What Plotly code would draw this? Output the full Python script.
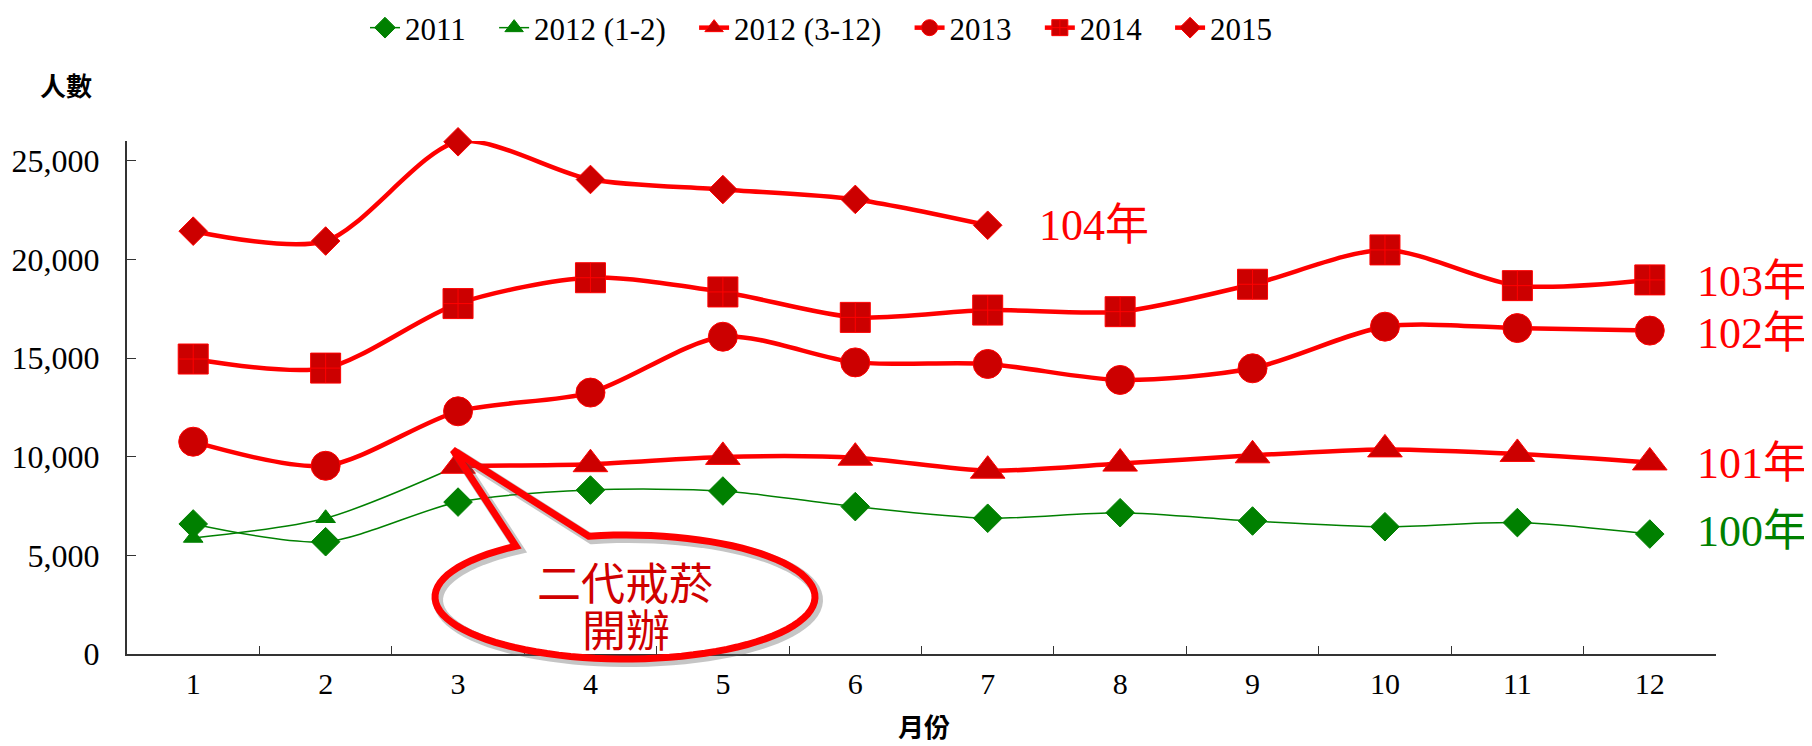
import numpy as np
import plotly.graph_objects as go

# datos (personas por mes)
meses = [str(m) for m in range(1, 13)]
v2011 = [6590, 5690, 7700, 8310, 8260, 7470, 6880, 7160, 6740, 6450, 6660, 6080]
v2012_a = [5880, 6880, 9540]            # 2012 (1-2), la linea llega hasta marzo
v2012_b = [9540, 9620, 9990, 9950, 9290, 9650, 10070, 10370, 10140, 9710]  # 2012 (3-12)
v2013 = [10760, 9540, 12300, 13250, 16080, 14780, 14700, 13890, 14480, 16590, 16520, 16390]
v2014 = [14950, 14490, 17760, 19070, 18350, 17060, 17430, 17350, 18740, 20480, 18670, 18960]
v2015 = [21430, 20930, 25960, 24050, 23540, 23040, 21730]

etiquetas_anio = ["104年", "103年", "102年", "101年", "100年"]
y_etiquetas = [21740, 18870, 16250, 9660, 6200]

fuente = "Liberation Serif, Noto Sans CJK TC, serif"
rojo = "#FF0000"
rojo_osc = "#CC0000"
verde = "#008000"
esp = "\u00a0" * 3  # separacion extra en la leyenda

fig = go.Figure()

def serie(x, y, nombre, simbolo, color_linea, color_marca, ancho, tam):
    fig.add_trace(go.Scatter(
        x=x, y=y, name=nombre + esp, mode="lines+markers", cliponaxis=False,
        line=dict(color=color_linea, width=ancho, shape="spline", smoothing=0.8),
        marker=dict(symbol=simbolo, size=tam, color=color_marca,
                    line=dict(color=color_linea, width=1)),
    ))

serie(meses, v2011, "2011", "diamond", verde, verde, 1.5, 22)
serie(meses[:3], v2012_a, "2012 (1-2)", "triangle-up", verde, verde, 1.5, 17)
serie(meses[2:], v2012_b, "2012 (3-12)", "triangle-up", rojo, rojo_osc, 4.5, 30)
serie(meses, v2013, "2013", "circle", rojo, rojo_osc, 4.5, 29)
serie(meses, v2014, "2014", "square-cross", rojo, rojo_osc, 4.5, 30)
serie(meses[:7], v2015, "2015", "diamond", rojo, rojo_osc, 4.5, 22)

# area del grafico en pixeles de pantalla (la pagina tiene 8 px de margen)
OFS = 8
L, R, T, B = 127, 1716, 141, 654
W, H = R - L, B - T
ANCHO, ALTO = 1812 - OFS, 746 - OFS

def a_papel(x, y):
    return (x - L) / W, (B - y) / H

# globo del texto "二代戒菸開辦"
cx, cy, rx, ry = 625, 597, 190, 62
ts = np.radians(np.linspace(101, -235, 90))
puntos = [(cx + rx * np.cos(t), cy - ry * np.sin(t)) for t in ts]
puntos += [(453, 450)]
def camino(pts, dx=0, dy=0):
    p = [a_papel(x + dx, y + dy) for x, y in pts]
    return "M " + " L ".join(f"{a:.5f},{b:.5f}" for a, b in p) + " Z"

fig.add_shape(type="path", xref="paper", yref="paper", path=camino(puntos, 3, 3),
              line=dict(color="rgba(90,90,90,0.35)", width=10), layer="above")
fig.add_shape(type="path", xref="paper", yref="paper", path=camino(puntos),
              line=dict(color=rojo, width=7), layer="above")

anot = []
for txt, (x, y) in [("二代戒菸", (625, 585)), ("開辦", (626, 632))]:
    px, py = a_papel(x, y)
    anot.append(dict(text=txt, x=px, y=py, xref="paper", yref="paper", showarrow=False,
                     xanchor="center", yanchor="middle",
                     font=dict(size=44, color="#D00000", family=fuente)))

x_etq = [1037, 1695, 1695, 1695, 1695]
colores_etq = [rojo, rojo, rojo, rojo, verde]
for txt, xe, ye, c in zip(etiquetas_anio, x_etq, y_etiquetas, colores_etq):
    anot.append(dict(text=txt, x=(xe - L) / W, y=ye, xref="paper", yref="y",
                     xanchor="left", yanchor="middle", showarrow=False,
                     font=dict(size=44, color=c, family=fuente)))

for txt, (x, y) in [("<b>人數</b>", (66, 88)), ("<b>月份</b>", (924, 728))]:
    px, py = a_papel(x, y)
    anot.append(dict(text=txt, x=px, y=py, xref="paper", yref="paper",
                     xanchor="center", yanchor="middle", showarrow=False, borderpad=0,
                     font=dict(size=26, color="black", family=fuente)))

fig.update_layout(
    width=ANCHO, height=ALTO,
    margin=dict(l=L - OFS, r=ANCHO - (R - OFS), t=T - OFS, b=ALTO - (B - OFS),
                autoexpand=False),
    plot_bgcolor="white", paper_bgcolor="white",
    font=dict(family=fuente, color="black", size=32),
    legend=dict(orientation="h", x=(833 - L) / W, xanchor="center",
                y=(B - 1) / H, yanchor="top", font=dict(size=31),
                itemsizing="trace"),
    annotations=anot,
    xaxis=dict(type="category", categoryorder="array", categoryarray=meses,
               range=[-0.5, 11.5], tickson="boundaries", ticks="inside", ticklen=8,
               showline=True, linecolor="#333333", linewidth=2, showgrid=False,
               tickcolor="#333333", ticklabelstandoff=2, tickfont=dict(size=30),
               automargin=False),
    yaxis=dict(range=[0, 26000], tickvals=[0, 5000, 10000, 15000, 20000, 25000],
               tickformat=",d", ticks="inside", ticklen=9, showline=True,
               linecolor="#333333", linewidth=2, showgrid=False, zeroline=False,
               tickcolor="#333333", ticklabelstandoff=19, tickfont=dict(size=32),
               automargin=False),
)

fig.write_html("out.html")
